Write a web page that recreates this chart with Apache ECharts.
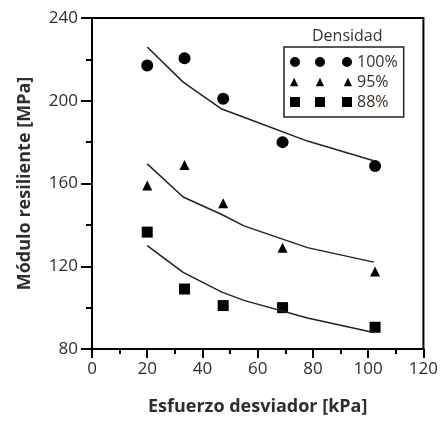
<!DOCTYPE html>
<html>
<head>
<meta charset="utf-8">
<script src="https://cdn.jsdelivr.net/npm/echarts@6/dist/echarts.min.js"></script>
<style>
	html,body{margin:0;padding:0;background:#fff}
	#chart{width:441px;height:421px}
</style>
</head>
<body>
<div id="chart"></div>
<script>
	// medidos (puntos)
	var xPts = [20, 33.5, 47.5, 69, 102.5];
	var d100 = [217, 220.5, 201, 180, 168.5];
	var d95 = [159, 169, 150.5, 129, 117.5];
	var d88 = [136.5, 109, 101, 100, 90.5];
	// curvas de ajuste
	var xFit = [20, 33, 47, 55, 78, 102];
	var f100 = [226, 209, 196, 192, 180.5, 171];
	var f95 = [169.5, 153.5, 145, 139.5, 129, 122];
	var f88 = [130, 117, 107.5, 103.5, 95, 88];
	var names = ['100%', '95%', '88%'];

	function pairs(xs, ys) {
		return xs.map(function (x, i) { return [x, ys[i]]; });
	}

	var icons = [
		'path://M0,5a5,5 0 1,0 10,0a5,5 0 1,0 -10,0ZM25,5a5,5 0 1,0 10,0a5,5 0 1,0 -10,0ZM52,5a5,5 0 1,0 10,0a5,5 0 1,0 -10,0Z',
		'path://M5,1L9,9L1,9ZM30,1L34,9L26,9ZM57,1L61,9L53,9Z',
		'path://M0,0L10,0L10,10L0,10ZM25,0L35,0L35,10L25,10ZM52,0L62,0L62,10L52,10Z'
	];
	var ink = '#2e2e2e';
	var font = '"Open Sans", sans-serif';
	var dot = {color: '#000', opacity: 1};

	var myChart = echarts.init(document.getElementById('chart'));
	var option = {
		animation: false,
		textStyle: {fontFamily: font},
		title: {
			text: 'Densidad',
			left: 312, top: 28,
			padding: 0,
			textStyle: {fontSize: 16, fontWeight: 'normal', color: '#3a3028', fontFamily: font}
		},
		legend: {
			left: 284, top: 47,
			orient: 'vertical',
			itemWidth: 62, itemHeight: 10,
			itemGap: 2,
			padding: [6, 6, 6, 6],
			borderColor: '#222', borderWidth: 1.5,
			backgroundColor: '#fff',
			textStyle: {fontSize: 16, lineHeight: 18, color: '#3a3028', fontFamily: font},
			data: names.map(function (n, i) {
				return {name: n, icon: icons[i], itemStyle: dot};
			})
		},
		grid: {
			left: 92, right: 16, top: 18, bottom: 72,
			show: true, borderColor: '#000', borderWidth: 2
		},
		xAxis: {
			type: 'value', min: 0, max: 120, interval: 20,
			name: 'Esfuerzo desviador [kPa]',
			nameLocation: 'middle', nameGap: 49,
			nameTextStyle: {fontSize: 18, fontWeight: 'bold', color: ink},
			axisLine: {lineStyle: {color: '#000', width: 2}},
			axisTick: {inside: false, length: 9, lineStyle: {color: '#000', width: 2}},
			minorTick: {show: true, splitNumber: 2, length: 5, lineStyle: {color: '#000', width: 2}},
			axisLabel: {fontSize: 17, color: ink, margin: 12},
			splitLine: {show: false}
		},
		yAxis: {
			type: 'value', min: 80, max: 240, interval: 40,
			name: 'Módulo resiliente [MPa]',
			nameLocation: 'middle', nameGap: 58,
			nameTextStyle: {fontSize: 18, fontWeight: 'bold', color: ink},
			axisLine: {lineStyle: {color: '#000', width: 2}},
			axisTick: {length: 11, lineStyle: {color: '#000', width: 2}},
			minorTick: {show: true, splitNumber: 2, length: 6, lineStyle: {color: '#000', width: 2}},
			axisLabel: {fontSize: 17, color: ink, margin: 14},
			splitLine: {show: false}
		},
		series: [
			{name: names[0], type: 'scatter', symbol: 'circle', symbolSize: 12, itemStyle: dot, data: pairs(xPts, d100)},
			{name: names[1], type: 'scatter', symbol: 'triangle', symbolSize: 10, itemStyle: dot, data: pairs(xPts, d95)},
			{name: names[2], type: 'scatter', symbol: 'rect', symbolSize: 11, itemStyle: dot, data: pairs(xPts, d88)},
			{type: 'line', symbol: 'none', lineStyle: {color: '#222', width: 1.5}, data: pairs(xFit, f100)},
			{type: 'line', symbol: 'none', lineStyle: {color: '#222', width: 1.5}, data: pairs(xFit, f95)},
			{type: 'line', symbol: 'none', lineStyle: {color: '#222', width: 1.5}, data: pairs(xFit, f88)}
		]
	};
	myChart.setOption(option);
</script>
</body>
</html>
